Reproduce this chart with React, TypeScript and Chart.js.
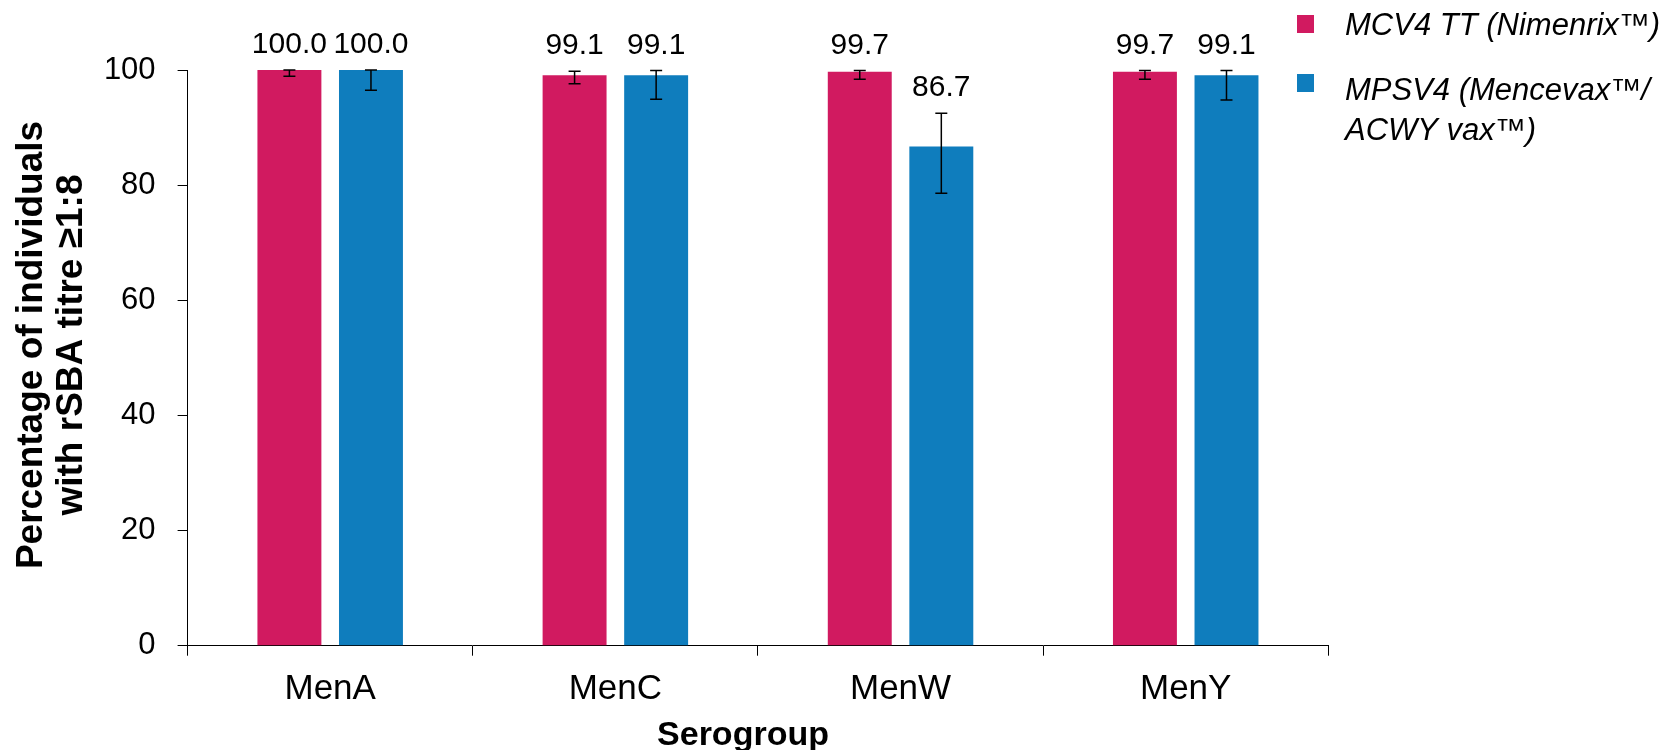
import React, { useEffect, useRef } from "react";
import { Chart, registerables } from "chart.js";

Chart.register(...registerables);

const categories = ["MenA", "MenC", "MenW", "MenY"];
const seriesNames = ["MCV4 TT (Nimenrix™)", "MPSV4 (Mencevax™/ ACWY vax™)"];
const legendLines = [["MCV4 TT (Nimenrix™)"], ["MPSV4 (Mencevax™/", "ACWY vax™)"]];
const mcv4Values = [100.0, 99.1, 99.7, 99.7];
const mcv4Lower = [98.9, 97.6, 98.4, 98.4];
const mcv4Upper = [100.0, 99.8, 99.9, 99.9];
const mpsv4Values = [100.0, 99.1, 86.7, 99.1];
const mpsv4Lower = [96.5, 94.9, 78.6, 94.8];
const mpsv4Upper = [100.0, 99.9, 92.5, 99.9];
const seriesColors = ["#D11A60", "#0F7DBD"];
const yAxisTitle = ["Percentage of individuals", "with rSBA titre ≥1:8"];
const xAxisTitle = "Serogroup";

const FONT = '"Liberation Sans", Arial, sans-serif';
const W = 1662;
const H = 750;

const lowers = [mcv4Lower, mpsv4Lower];
const uppers = [mcv4Upper, mpsv4Upper];

const errorBarPlugin = {
  id: "errorBars",
  afterDatasetsDraw(chart: any) {
    const ctx = chart.ctx;
    const yScale = chart.scales.y;
    ctx.save();
    chart.data.datasets.forEach((ds: any, i: number) => {
      const meta = chart.getDatasetMeta(i);
      meta.data.forEach((el: any, j: number) => {
        const x = el.x;
        const yl = yScale.getPixelForValue(lowers[i][j]);
        const yu = yScale.getPixelForValue(uppers[i][j]);
        ctx.strokeStyle = "#000";
        ctx.lineWidth = 1.5;
        ctx.beginPath();
        ctx.moveTo(x, yl);
        ctx.lineTo(x, yu);
        ctx.moveTo(x - 6, yl);
        ctx.lineTo(x + 6, yl);
        ctx.moveTo(x - 6, yu);
        ctx.lineTo(x + 6, yu);
        ctx.stroke();
        ctx.fillStyle = "#000";
        ctx.font = `30px ${FONT}`;
        ctx.textAlign = "center";
        ctx.textBaseline = "alphabetic";
        ctx.fillText(Number(ds.data[j]).toFixed(1), x, yu - 17);
      });
    });
    ctx.restore();
  },
};

const decorPlugin = {
  id: "decor",
  afterDraw(chart: any) {
    const ctx = chart.ctx;
    ctx.save();
    ctx.fillStyle = "#000";
    // y axis title
    ctx.font = `bold 37px ${FONT}`;
    ctx.textAlign = "center";
    ctx.textBaseline = "alphabetic";
    yAxisTitle.forEach((line, k) => {
      ctx.save();
      ctx.translate(42 + k * 40, 345);
      ctx.rotate(-Math.PI / 2);
      ctx.fillText(line, 0, 0);
      ctx.restore();
    });
    // x axis title
    ctx.font = `bold 34px ${FONT}`;
    ctx.fillText(xAxisTitle, 743, 745);
    // legend
    const squareY = [15, 74];
    const baseY = [35, 100];
    ctx.textAlign = "left";
    ctx.font = `italic 31px ${FONT}`;
    legendLines.forEach((lines, i) => {
      ctx.fillStyle = seriesColors[i];
      ctx.fillRect(1297, squareY[i], 17, 18);
      ctx.fillStyle = "#000";
      lines.forEach((t, k) => {
        ctx.fillText(t, 1345, baseY[i] + k * 40);
      });
    });
    ctx.restore();
  },
};

export default function App() {
  const ref = useRef<HTMLCanvasElement | null>(null);
  useEffect(() => {
    if (!ref.current) return;
    const chart = new Chart(ref.current, {
      type: "bar",
      data: {
        labels: categories,
        datasets: [
          {
            label: seriesNames[0],
            data: mcv4Values,
            backgroundColor: seriesColors[0],
            categoryPercentage: 0.572,
            barPercentage: 0.784,
          },
          {
            label: seriesNames[1],
            data: mpsv4Values,
            backgroundColor: seriesColors[1],
            categoryPercentage: 0.572,
            barPercentage: 0.784,
          },
        ],
      },
      options: {
        responsive: false,
        animation: false,
        layout: { padding: { left: 0, right: W - 1328.3, top: 70, bottom: 0 } },
        plugins: {
          legend: { display: false },
          tooltip: { enabled: false },
          title: { display: false },
        },
        scales: {
          x: {
            grid: {
              display: true,
              drawOnChartArea: false,
              drawTicks: true,
              tickLength: 10,
              color: "#000",
              lineWidth: 1,
              offset: true,
            },
            border: { display: true, color: "#000", width: 1 },
            ticks: {
              color: "#000",
              font: { family: FONT, size: 35, lineHeight: 1.2 },
              padding: 13,
              maxRotation: 0,
            },
            afterFit(scale: any) {
              scale.height = H - 645.7;
            },
          },
          y: {
            min: 0,
            max: 100,
            grid: {
              display: true,
              drawOnChartArea: false,
              drawTicks: true,
              tickLength: 10,
              color: "#000",
              lineWidth: 1,
            },
            border: { display: true, color: "#000", width: 1 },
            ticks: {
              stepSize: 20,
              color: "#000",
              font: { family: FONT, size: 31 },
              padding: 22,
            },
            afterFit(scale: any) {
              scale.width = 187.6;
            },
          },
        },
      },
      plugins: [errorBarPlugin, decorPlugin],
    });
    return () => chart.destroy();
  }, []);
  return (
    <div style={{ position: "fixed", left: 0, top: 0, width: W, height: H, background: "#fff" }}>
      <canvas ref={ref} width={W} height={H} style={{ display: "block" }} />
    </div>
  );
}
